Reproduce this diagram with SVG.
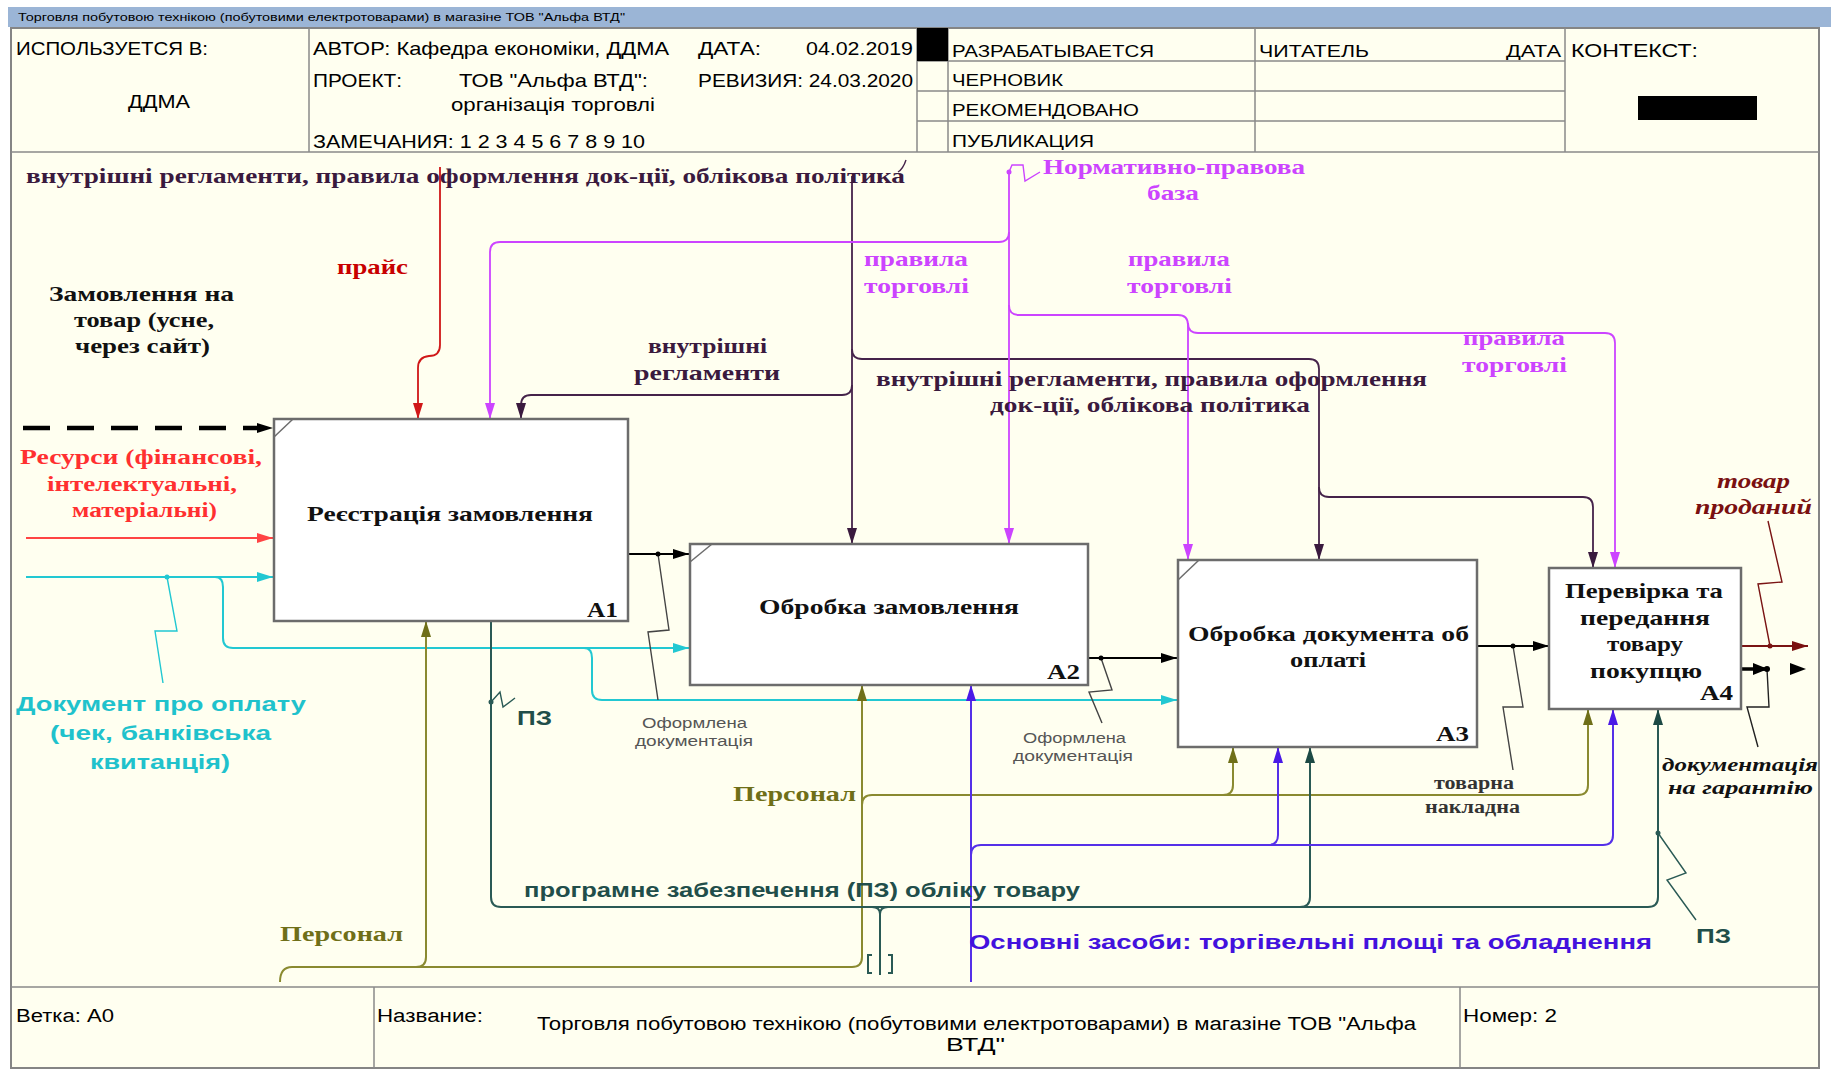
<svg xmlns="http://www.w3.org/2000/svg" width="1831" height="1071" viewBox="0 0 1831 1071">
  <defs>
    <style>
      .paper { fill:#fffff0; }
      .frame { fill:none; stroke:#858585; stroke-width:2; }
      .grid { stroke:#8a8a8a; stroke-width:1.5; fill:none; }
      .box { fill:#ffffff; stroke:#6c6c6c; stroke-width:2.5; }
      .corner { stroke:#6c6c6c; stroke-width:1.5; fill:none; }
      .hd { font-family:"Liberation Sans", Arial, sans-serif; fill:#000; }
      .serif { font-family:"Liberation Serif", "Times New Roman", serif; font-weight:bold; }
      .sans { font-family:"Liberation Sans", Arial, sans-serif; font-weight:bold; }
      .note { font-family:"Liberation Sans", Arial, sans-serif; fill:#555; font-size:15.5px; }
      .ital { font-style:italic; }
      .c { fill:none; stroke-width:1.8; }
      .k-black { stroke:#000; }
      .k-purple { stroke:#45234a; }
      .k-magenta { stroke:#cc44ff; }
      .k-red { stroke:#d01818; }
      .k-pink { stroke:#ff4444; }
      .k-cyan { stroke:#22c8d2; stroke-width:2; }
      .k-olive { stroke:#8a8a30; stroke-width:2; }
      .k-teal { stroke:#2a5a55; stroke-width:2; }
      .k-blue { stroke:#5530e8; stroke-width:2; }
      .k-dred { stroke:#7a1414; }
      .sq { fill:none; stroke-width:1.4; }
      .dash { fill:none; stroke:#000; stroke-width:4.5; stroke-dasharray:27 17; }
    </style>
    <marker id="ah-black" viewBox="0 0 16 10" refX="16" refY="5" markerWidth="16" markerHeight="10" markerUnits="userSpaceOnUse" orient="auto"><path d="M0,0 L16,5 L0,10 z" fill="#000"/></marker>
    <marker id="ah-purple" viewBox="0 0 16 10" refX="16" refY="5" markerWidth="16" markerHeight="10" markerUnits="userSpaceOnUse" orient="auto"><path d="M0,0 L16,5 L0,10 z" fill="#3a1a3e"/></marker>
    <marker id="ah-magenta" viewBox="0 0 16 10" refX="16" refY="5" markerWidth="16" markerHeight="10" markerUnits="userSpaceOnUse" orient="auto"><path d="M0,0 L16,5 L0,10 z" fill="#cc44ff"/></marker>
    <marker id="ah-red" viewBox="0 0 16 10" refX="16" refY="5" markerWidth="16" markerHeight="10" markerUnits="userSpaceOnUse" orient="auto"><path d="M0,0 L16,5 L0,10 z" fill="#d01818"/></marker>
    <marker id="ah-pink" viewBox="0 0 16 10" refX="16" refY="5" markerWidth="16" markerHeight="10" markerUnits="userSpaceOnUse" orient="auto"><path d="M0,0 L16,5 L0,10 z" fill="#ff4444"/></marker>
    <marker id="ah-cyan" viewBox="0 0 16 10" refX="16" refY="5" markerWidth="16" markerHeight="10" markerUnits="userSpaceOnUse" orient="auto"><path d="M0,0 L16,5 L0,10 z" fill="#22c8d2"/></marker>
    <marker id="ah-olive" viewBox="0 0 16 10" refX="16" refY="5" markerWidth="16" markerHeight="10" markerUnits="userSpaceOnUse" orient="auto"><path d="M0,0 L16,5 L0,10 z" fill="#6f6f18"/></marker>
    <marker id="ah-teal" viewBox="0 0 16 10" refX="16" refY="5" markerWidth="16" markerHeight="10" markerUnits="userSpaceOnUse" orient="auto"><path d="M0,0 L16,5 L0,10 z" fill="#1d4a45"/></marker>
    <marker id="ah-blue" viewBox="0 0 16 10" refX="16" refY="5" markerWidth="16" markerHeight="10" markerUnits="userSpaceOnUse" orient="auto"><path d="M0,0 L16,5 L0,10 z" fill="#4a1ae6"/></marker>
    <marker id="ah-dred" viewBox="0 0 16 10" refX="16" refY="5" markerWidth="16" markerHeight="10" markerUnits="userSpaceOnUse" orient="auto"><path d="M0,0 L16,5 L0,10 z" fill="#7a1010"/></marker>
  </defs>

  <!-- sheet: title strip, header block, drawing field, footer -->
  <g id="sheet">
    <rect x="0" y="0" width="1831" height="1071" fill="#ffffff"/>
    <rect x="8" y="7" width="1823" height="20" fill="#9bb5d6"/>
    <text class="hd" x="18" y="21" font-size="11" textLength="607" lengthAdjust="spacingAndGlyphs">Торговля побутовою технікою (побутовими електротоварами) в магазіне ТОВ "Альфа ВТД"</text>
    <rect class="paper" x="11" y="28" width="1808" height="1040"/>
    <rect class="frame" x="11" y="28" width="1808" height="1040"/>
    <line class="grid" x1="11" y1="152" x2="1819" y2="152"/>
    <line class="grid" x1="11" y1="987" x2="1819" y2="987"/>
    <line class="grid" x1="309" y1="28" x2="309" y2="152"/>
    <line class="grid" x1="917" y1="28" x2="917" y2="152"/>
    <line class="grid" x1="948" y1="28" x2="948" y2="152"/>
    <line class="grid" x1="1255" y1="28" x2="1255" y2="152"/>
    <line class="grid" x1="1565" y1="28" x2="1565" y2="152"/>
    <line class="grid" x1="917" y1="61" x2="1565" y2="61"/>
    <line class="grid" x1="917" y1="91" x2="1565" y2="91"/>
    <line class="grid" x1="917" y1="121" x2="1565" y2="121"/>
    <rect x="917" y="28" width="31" height="33" fill="#000"/>
    <rect x="1638" y="96" width="119" height="24" fill="#000"/>
    <line class="grid" x1="374" y1="987" x2="374" y2="1068"/>
    <line class="grid" x1="1460" y1="987" x2="1460" y2="1068"/>

    <text class="hd" x="16" y="55" font-size="19" textLength="192" lengthAdjust="spacingAndGlyphs">ИСПОЛЬЗУЕТСЯ В:</text>
    <text class="hd" x="128" y="108" font-size="19" textLength="62" lengthAdjust="spacingAndGlyphs">ДДМА</text>
    <text class="hd" x="313" y="55" font-size="19" textLength="356" lengthAdjust="spacingAndGlyphs">АВТОР: Кафедра економіки, ДДМА</text>
    <text class="hd" x="698" y="55" font-size="19" textLength="63" lengthAdjust="spacingAndGlyphs">ДАТА:</text>
    <text class="hd" x="806" y="55" font-size="19" textLength="107" lengthAdjust="spacingAndGlyphs">04.02.2019</text>
    <text class="hd" x="313" y="87" font-size="19" textLength="89" lengthAdjust="spacingAndGlyphs">ПРОЕКТ:</text>
    <text class="hd" x="459" y="87" font-size="19" textLength="189" lengthAdjust="spacingAndGlyphs">ТОВ "Альфа ВТД":</text>
    <text class="hd" x="451" y="111" font-size="19" textLength="204" lengthAdjust="spacingAndGlyphs">організація торговлі</text>
    <text class="hd" x="698" y="87" font-size="19" textLength="215" lengthAdjust="spacingAndGlyphs">РЕВИЗИЯ: 24.03.2020</text>
    <text class="hd" x="313" y="148" font-size="19" textLength="332" lengthAdjust="spacingAndGlyphs">ЗАМЕЧАНИЯ: 1 2 3 4 5 6 7 8 9 10</text>
    <text class="hd" x="952" y="57" font-size="17" textLength="202" lengthAdjust="spacingAndGlyphs">РАЗРАБАТЫВАЕТСЯ</text>
    <text class="hd" x="1259" y="57" font-size="17" textLength="110" lengthAdjust="spacingAndGlyphs">ЧИТАТЕЛЬ</text>
    <text class="hd" x="1506" y="57" font-size="17" textLength="55" lengthAdjust="spacingAndGlyphs">ДАТА</text>
    <text class="hd" x="1571" y="57" font-size="19" textLength="127" lengthAdjust="spacingAndGlyphs">КОНТЕКСТ:</text>
    <text class="hd" x="952" y="86" font-size="17" textLength="111" lengthAdjust="spacingAndGlyphs">ЧЕРНОВИК</text>
    <text class="hd" x="952" y="116" font-size="17" textLength="187" lengthAdjust="spacingAndGlyphs">РЕКОМЕНДОВАНО</text>
    <text class="hd" x="952" y="147" font-size="17" textLength="142" lengthAdjust="spacingAndGlyphs">ПУБЛИКАЦИЯ</text>

    <text class="hd" x="16" y="1022" font-size="18" textLength="98" lengthAdjust="spacingAndGlyphs">Ветка: A0</text>
    <text class="hd" x="377" y="1022" font-size="18" textLength="106" lengthAdjust="spacingAndGlyphs">Название:</text>
    <text class="hd" x="537" y="1030" font-size="18" textLength="879" lengthAdjust="spacingAndGlyphs">Торговля побутовою технікою (побутовими електротоварами) в магазіне ТОВ "Альфа</text>
    <text class="hd" x="946" y="1051" font-size="18" textLength="59" lengthAdjust="spacingAndGlyphs">ВТД"</text>
    <text class="hd" x="1463" y="1022" font-size="18" textLength="94" lengthAdjust="spacingAndGlyphs">Номер: 2</text>
  </g>

  <!-- arrows between and around the activity boxes -->
  <g id="connectors">
    <!-- order input (dashed) -->
    <path class="dash" d="M23,428 H258"/>
    <path d="M257,428 H273" stroke="none" fill="none" marker-end="url(#ah-black)"/>
    <!-- resources input -->
    <path class="c k-pink" d="M26,538 H273" marker-end="url(#ah-pink)"/>
    <!-- payment document input and its branches -->
    <path class="c k-cyan" d="M26,577 H273" marker-end="url(#ah-cyan)"/>
    <path class="c k-cyan" d="M215,577 Q223,577 223,587 V638 Q223,648 233,648 H689" marker-end="url(#ah-cyan)"/>
    <path class="c k-cyan" d="M584,648 Q592,648 592,658 V690 Q592,700 602,700 H1177" marker-end="url(#ah-cyan)"/>
    <!-- price control -->
    <path class="c k-red" d="M440,167 V345 Q440,356 429,356 Q418,357 418,368 V419" marker-end="url(#ah-red)"/>
    <!-- internal regulations control -->
    <path class="c k-purple" d="M852,176 V544" marker-end="url(#ah-purple)"/>
    <path class="c k-purple" d="M852,385 Q852,395 842,395 H531 Q521,395 521,405 V419" marker-end="url(#ah-purple)"/>
    <path class="c k-purple" d="M852,349 Q852,359 862,359 H1309 Q1319,359 1319,369 V560" marker-end="url(#ah-purple)"/>
    <path class="c k-purple" d="M1319,487 Q1319,497 1329,497 H1583 Q1593,497 1593,507 V568" marker-end="url(#ah-purple)"/>
    <!-- legal base control -->
    <path class="c k-magenta" d="M1009,172 V544" marker-end="url(#ah-magenta)"/>
    <path class="c k-magenta" d="M1009,232 Q1009,242 999,242 H500 Q490,242 490,252 V419" marker-end="url(#ah-magenta)"/>
    <path class="c k-magenta" d="M1009,305 Q1009,315 1019,315 H1178 Q1188,315 1188,325 V560" marker-end="url(#ah-magenta)"/>
    <path class="c k-magenta" d="M1188,323 Q1188,333 1198,333 H1605 Q1615,333 1615,343 V568" marker-end="url(#ah-magenta)"/>
    <!-- box-to-box outputs -->
    <path class="c k-black" d="M628,554 H689" marker-end="url(#ah-black)"/>
    <path class="c k-black" d="M1089,658 H1177" marker-end="url(#ah-black)"/>
    <path class="c k-black" d="M1478,646 H1549" marker-end="url(#ah-black)"/>
    <!-- final outputs -->
    <path class="c k-dred" d="M1742,646 H1808" marker-end="url(#ah-dred)"/>
    <path d="M1742,669 H1768" fill="none" stroke="#000" stroke-width="3.5"/>
    <path d="M1753,663 L1768,669 L1753,675 z" fill="#000"/>
    <path d="M1790,663 L1806,669 L1790,675 z" fill="#000"/>
    <!-- staff mechanism -->
    <path class="c k-olive" d="M280,982 Q280,967 292,967 H852 Q862,967 862,957 V685" marker-end="url(#ah-olive)"/>
    <path class="c k-olive" d="M416,967 Q426,967 426,957 V621" marker-end="url(#ah-olive)"/>
    <path class="c k-olive" d="M862,805 Q862,795 872,795 H1578 Q1588,795 1588,785 V709" marker-end="url(#ah-olive)"/>
    <path class="c k-olive" d="M1223,795 Q1233,795 1233,785 V747" marker-end="url(#ah-olive)"/>
    <!-- software mechanism -->
    <path class="c k-teal" d="M491,621 V897 Q491,907 501,907 H1648 Q1658,907 1658,897 V709" marker-end="url(#ah-teal)"/>
    <path class="c k-teal" d="M1300,907 Q1310,907 1310,897 V747" marker-end="url(#ah-teal)"/>
    <path class="c k-teal" d="M872,907 Q880,907 880,914 Q880,907 888,907 M880,914 V975"/>
    <path class="c k-teal" d="M872,955 H868 V973 H872 M888,955 H892 V973 H888" stroke-width="1.6"/>
    <!-- equipment mechanism -->
    <path class="c k-blue" d="M971,982 V685" marker-end="url(#ah-blue)"/>
    <path class="c k-blue" d="M971,855 Q971,845 981,845 H1603 Q1613,845 1613,835 V709" marker-end="url(#ah-blue)"/>
    <path class="c k-blue" d="M1268,845 Q1278,845 1278,835 V747" marker-end="url(#ah-blue)"/>

    <!-- label leaders -->
    <path class="sq" stroke="#444" d="M658,554 L669,630 L648,632 L658,700"/>
    <path class="sq" stroke="#444" d="M1101,658 L1112,690 L1089,692 L1102,723"/>
    <path class="sq" stroke="#444" d="M1513,646 L1523,707 L1503,707 L1513,770"/>
    <path class="sq" stroke="#7a1414" d="M1770,646 L1758,584 L1782,582 L1768,521"/>
    <path class="sq" stroke="#222" d="M1767,669 L1769,707 L1747,707 L1758,747"/>
    <path class="sq" stroke="#22c8d2" d="M167,577 L177,631 L155,631 L163,683"/>
    <path class="sq" stroke="#2a5a55" d="M491,702 L500,692 L503,707 L515,698"/>
    <path class="sq" stroke="#2a5a55" d="M1658,833 L1686,873 L1667,880 L1696,920"/>
    <path class="sq" stroke="#cc44ff" d="M1009,172 L1012,165 L1023,165 L1025,181 L1040,172"/>
    <path class="sq" stroke="#45234a" d="M898,172 Q903,169 906,160"/>

    <!-- junction dots -->
    <g fill="#000">
      <circle cx="658" cy="554" r="2.5"/>
      <circle cx="1101" cy="658" r="2.5"/>
      <circle cx="1513" cy="646" r="2.5"/>
      <circle cx="1767" cy="669" r="3"/>
    </g>
    <circle cx="1770" cy="646" r="2.5" fill="#7a1414"/>
    <circle cx="167" cy="577" r="2.5" fill="#22c8d2"/>
    <circle cx="491" cy="702" r="2.5" fill="#2a5a55"/>
    <circle cx="1658" cy="833" r="2.5" fill="#2a5a55"/>
    <circle cx="1009" cy="172" r="2.5" fill="#cc44ff"/>

    <!-- arrow labels -->
    <text class="serif" fill="#3a1a3e" font-size="22" x="26" y="183" textLength="879" lengthAdjust="spacingAndGlyphs">внутрішні регламенти, правила оформлення док-ції, облікова політика</text>
    <text class="serif" fill="#3a1a3e" font-size="22" x="648" y="353" textLength="119" lengthAdjust="spacingAndGlyphs">внутрішні</text>
    <text class="serif" fill="#3a1a3e" font-size="22" x="634" y="380" textLength="146" lengthAdjust="spacingAndGlyphs">регламенти</text>
    <text class="serif" fill="#3a1a3e" font-size="22" x="876" y="386" textLength="551" lengthAdjust="spacingAndGlyphs">внутрішні регламенти, правила оформлення</text>
    <text class="serif" fill="#3a1a3e" font-size="22" x="990" y="412" textLength="320" lengthAdjust="spacingAndGlyphs">док-ції, облікова політика</text>

    <text class="serif" fill="#c80000" font-size="22" x="337" y="274" textLength="71" lengthAdjust="spacingAndGlyphs">прайс</text>

    <text class="serif" fill="#111" font-size="22" x="49" y="301" textLength="185" lengthAdjust="spacingAndGlyphs">Замовлення на</text>
    <text class="serif" fill="#111" font-size="22" x="74" y="327" textLength="140" lengthAdjust="spacingAndGlyphs">товар (усне,</text>
    <text class="serif" fill="#111" font-size="22" x="75" y="353" textLength="135" lengthAdjust="spacingAndGlyphs">через сайт)</text>

    <text class="serif" fill="#ff3030" font-size="22" x="20" y="464" textLength="242" lengthAdjust="spacingAndGlyphs">Ресурси (фінансові,</text>
    <text class="serif" fill="#ff3030" font-size="22" x="47" y="491" textLength="190" lengthAdjust="spacingAndGlyphs">інтелектуальні,</text>
    <text class="serif" fill="#ff3030" font-size="22" x="72" y="517" textLength="145" lengthAdjust="spacingAndGlyphs">матеріальні)</text>

    <text class="serif" fill="#cc44ff" font-size="22" x="1043" y="174" textLength="262" lengthAdjust="spacingAndGlyphs">Нормативно-правова</text>
    <text class="serif" fill="#cc44ff" font-size="22" x="1147" y="200" textLength="52" lengthAdjust="spacingAndGlyphs">база</text>
    <text class="serif" fill="#cc44ff" font-size="22" x="864" y="266" textLength="104" lengthAdjust="spacingAndGlyphs">правила</text>
    <text class="serif" fill="#cc44ff" font-size="22" x="864" y="293" textLength="105" lengthAdjust="spacingAndGlyphs">торговлі</text>
    <text class="serif" fill="#cc44ff" font-size="22" x="1128" y="266" textLength="102" lengthAdjust="spacingAndGlyphs">правила</text>
    <text class="serif" fill="#cc44ff" font-size="22" x="1127" y="293" textLength="105" lengthAdjust="spacingAndGlyphs">торговлі</text>
    <text class="serif" fill="#cc44ff" font-size="22" x="1463" y="345" textLength="102" lengthAdjust="spacingAndGlyphs">правила</text>
    <text class="serif" fill="#cc44ff" font-size="22" x="1462" y="372" textLength="105" lengthAdjust="spacingAndGlyphs">торговлі</text>

    <text class="serif ital" fill="#7a1010" font-size="21" x="1717" y="488" textLength="73" lengthAdjust="spacingAndGlyphs">товар</text>
    <text class="serif ital" fill="#7a1010" font-size="21" x="1695" y="514" textLength="117" lengthAdjust="spacingAndGlyphs">проданий</text>
    <text class="serif ital" fill="#111" font-size="19" x="1662" y="771" textLength="156" lengthAdjust="spacingAndGlyphs">документація</text>
    <text class="serif ital" fill="#111" font-size="19" x="1668" y="794" textLength="145" lengthAdjust="spacingAndGlyphs">на гарантію</text>

    <text class="serif" fill="#333" font-size="18" x="1434" y="789" textLength="80" lengthAdjust="spacingAndGlyphs">товарна</text>
    <text class="serif" fill="#333" font-size="18" x="1425" y="813" textLength="95" lengthAdjust="spacingAndGlyphs">накладна</text>

    <text class="note" x="642" y="728" textLength="105" lengthAdjust="spacingAndGlyphs">Оформлена</text>
    <text class="note" x="635" y="746" textLength="118" lengthAdjust="spacingAndGlyphs">документація</text>
    <text class="note" x="1023" y="743" textLength="103" lengthAdjust="spacingAndGlyphs">Оформлена</text>
    <text class="note" x="1013" y="761" textLength="120" lengthAdjust="spacingAndGlyphs">документація</text>

    <text class="sans" fill="#1fc2cc" font-size="21" x="16" y="711" textLength="290" lengthAdjust="spacingAndGlyphs">Документ про оплату</text>
    <text class="sans" fill="#1fc2cc" font-size="21" x="50" y="740" textLength="221" lengthAdjust="spacingAndGlyphs">(чек, банківська</text>
    <text class="sans" fill="#1fc2cc" font-size="21" x="90" y="769" textLength="140" lengthAdjust="spacingAndGlyphs">квитанція)</text>

    <text class="serif" fill="#6f6f18" font-size="22" x="280" y="941" textLength="123" lengthAdjust="spacingAndGlyphs">Персонал</text>
    <text class="serif" fill="#6f6f18" font-size="22" x="733" y="801" textLength="123" lengthAdjust="spacingAndGlyphs">Персонал</text>

    <text class="sans" fill="#214e4a" font-size="21" x="524" y="897" textLength="556" lengthAdjust="spacingAndGlyphs">програмне забезпечення (ПЗ) обліку товару</text>
    <text class="sans" fill="#214e4a" font-size="20" x="517" y="725" textLength="35" lengthAdjust="spacingAndGlyphs">ПЗ</text>
    <text class="sans" fill="#214e4a" font-size="20" x="1696" y="943" textLength="35" lengthAdjust="spacingAndGlyphs">ПЗ</text>

    <text class="sans" fill="#4312dd" font-size="21" x="969" y="949" textLength="683" lengthAdjust="spacingAndGlyphs">Основні засоби: торгівельні площі та обладнення</text>
  </g>

  <!-- activity boxes -->
  <g id="A1">
    <rect class="box" x="274" y="419" width="354" height="202"/>
    <path class="corner" d="M274,437 L293,419"/>
    <text class="serif" fill="#111" font-size="22" x="307" y="521" textLength="286" lengthAdjust="spacingAndGlyphs">Реєстрація замовлення</text>
    <text class="serif" fill="#111" font-size="22" x="587" y="617" textLength="31" lengthAdjust="spacingAndGlyphs">A1</text>
  </g>
  <g id="A2">
    <rect class="box" x="690" y="544" width="398" height="141"/>
    <path class="corner" d="M690,562 L712,544"/>
    <text class="serif" fill="#111" font-size="22" x="759" y="614" textLength="260" lengthAdjust="spacingAndGlyphs">Обробка замовлення</text>
    <text class="serif" fill="#111" font-size="22" x="1047" y="679" textLength="33" lengthAdjust="spacingAndGlyphs">A2</text>
  </g>
  <g id="A3">
    <rect class="box" x="1178" y="560" width="299" height="187"/>
    <path class="corner" d="M1178,580 L1199,560"/>
    <text class="serif" fill="#111" font-size="22" x="1188" y="641" textLength="281" lengthAdjust="spacingAndGlyphs">Обробка документа об</text>
    <text class="serif" fill="#111" font-size="22" x="1290" y="667" textLength="76" lengthAdjust="spacingAndGlyphs">оплаті</text>
    <text class="serif" fill="#111" font-size="22" x="1436" y="741" textLength="33" lengthAdjust="spacingAndGlyphs">A3</text>
  </g>
  <g id="A4">
    <rect class="box" x="1549" y="568" width="192" height="141"/>
    <text class="serif" fill="#111" font-size="22" x="1565" y="598" textLength="158" lengthAdjust="spacingAndGlyphs">Перевірка та</text>
    <text class="serif" fill="#111" font-size="22" x="1580" y="625" textLength="130" lengthAdjust="spacingAndGlyphs">передання</text>
    <text class="serif" fill="#111" font-size="22" x="1607" y="651" textLength="76" lengthAdjust="spacingAndGlyphs">товару</text>
    <text class="serif" fill="#111" font-size="22" x="1590" y="678" textLength="112" lengthAdjust="spacingAndGlyphs">покупцю</text>
    <text class="serif" fill="#111" font-size="22" x="1700" y="700" textLength="33" lengthAdjust="spacingAndGlyphs">A4</text>
  </g>
</svg>
